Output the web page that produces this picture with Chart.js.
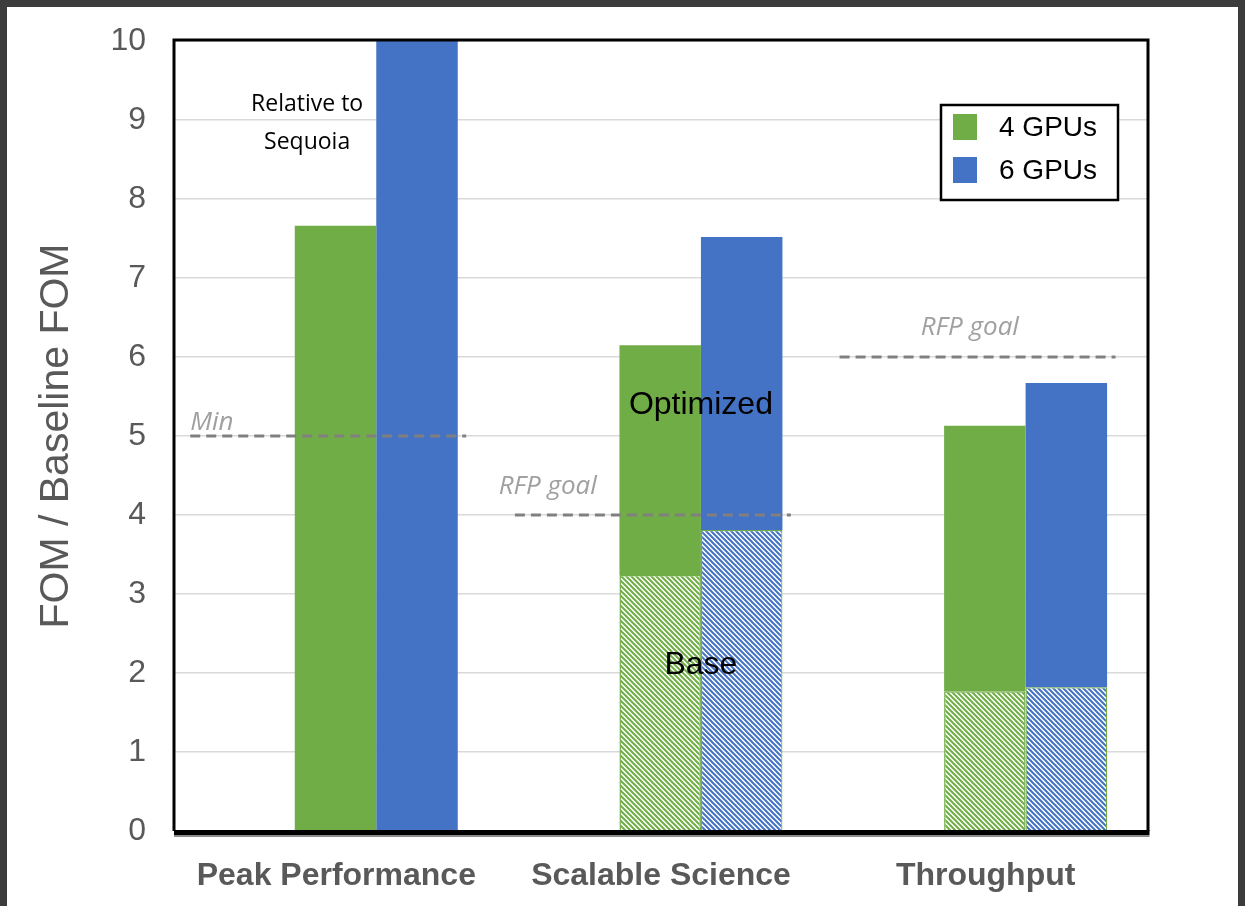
<!DOCTYPE html>
<html>
<head>
<meta charset="utf-8">
<script src="https://cdn.jsdelivr.net/npm/chart.js@4"></script>
<style>
  html, body { margin: 0; padding: 0; background: #3c3c3c; }
  #frame { position: absolute; left: 7px; top: 7px; width: 1231px; height: 899px; background: #fff; }
  canvas { display: block; }
</style>
</head>
<body>
<div id="frame"><canvas id="fomChart" width="1231" height="899"></canvas></div>
<script>
// Values
const categories = ['Peak Performance', 'Scalable Science', 'Throughput'];
const base4 = [0, 3.24, 1.77];     // hatched part, 4 GPUs
const total4 = [7.66, 6.15, 5.13]; // bar top, 4 GPUs
const base6 = [0, 3.81, 1.82];     // hatched part, 6 GPUs
const total6 = [10, 7.52, 5.67];   // bar top, 6 GPUs
const refValues = [5, 4, 6];
const refLabels = ['Min', 'RFP goal', 'RFP goal'];
const yTicks = [0, 1, 2, 3, 4, 5, 6, 7, 8, 9, 10];

const GREEN = '#70ad47';
const BLUE = '#4472c4';
const GRAY = '#595959';
const barShift = 0.123; // bar pairs sit right of the category label

function hatch(color) {
    const size = 5;
    const c = document.createElement('canvas');
    c.width = c.height = size;
    const g = c.getContext('2d');
    g.fillStyle = '#fff';
    g.fillRect(0, 0, size, size);
    g.strokeStyle = color;
    g.lineWidth = 2;
    g.beginPath();
    g.moveTo(-1, -1); g.lineTo(size + 1, size + 1);
    g.moveTo(-1, size - 1); g.lineTo(1, size + 1);
    g.moveTo(size - 1, -1); g.lineTo(size + 1, 1);
    g.stroke();
    return g.createPattern(c, 'repeat');
}

function points(values) {
    return values.map((v, i) => ({ x: i + barShift, y: v }));
}

const overlay = {
    id: 'overlay',
    afterDatasetsDraw(chart) {
        const { ctx, chartArea: a, scales: { x, y } } = chart;
        ctx.save();

        // dashed reference lines and their labels
        const labelShift = [-0.45, -0.5, -0.2];
        const labelY = [5.08, 4.27, 6.28];
        refValues.forEach((v, i) => {
            const py = y.getPixelForValue(v);
            ctx.setLineDash([10, 6]);
            ctx.lineWidth = 3;
            ctx.strokeStyle = '#808080';
            ctx.beginPath();
            ctx.moveTo(x.getPixelForValue(i - 0.45), py);
            ctx.lineTo(x.getPixelForValue(i + 0.4), py);
            ctx.stroke();
            ctx.setLineDash([]);
            ctx.font = 'italic 26px "Open Sans", sans-serif';
            ctx.fillStyle = '#a0a0a0';
            ctx.textAlign = 'left';
            ctx.textBaseline = 'alphabetic';
            ctx.fillText(refLabels[i], x.getPixelForValue(i + labelShift[i]), y.getPixelForValue(labelY[i]));
        });

        // text notes
        ctx.fillStyle = '#000';
        ctx.textAlign = 'center';
        ctx.textBaseline = 'middle';
        ctx.font = '23px "Open Sans", sans-serif';
        ctx.fillText('Relative to', x.getPixelForValue(-0.09), y.getPixelForValue(9.2));
        ctx.fillText('Sequoia', x.getPixelForValue(-0.09), y.getPixelForValue(8.71));
        ctx.font = '32px "Liberation Sans", Arial, sans-serif';
        ctx.fillText('Optimized', x.getPixelForValue(1 + barShift), y.getPixelForValue(5.39));
        ctx.fillText('Base', x.getPixelForValue(1 + barShift), y.getPixelForValue(2.1));

        // plot frame
        ctx.strokeStyle = '#000';
        ctx.lineWidth = 3;
        ctx.beginPath();
        ctx.moveTo(a.left, a.bottom);
        ctx.lineTo(a.left, a.top - 1);
        ctx.lineTo(a.right, a.top - 1);
        ctx.lineTo(a.right, a.bottom);
        ctx.stroke();
        ctx.lineWidth = 5;
        ctx.beginPath();
        ctx.moveTo(a.left, a.bottom + 1.5);
        ctx.lineTo(a.right + 1.5, a.bottom + 1.5);
        ctx.stroke();
        ctx.strokeStyle = '#8c8c8c';
        ctx.lineWidth = 2;
        ctx.beginPath();
        ctx.moveTo(a.left, a.bottom + 5);
        ctx.lineTo(a.right + 1.5, a.bottom + 5);
        ctx.stroke();

        // legend box
        const lx = a.right - 207, ly = a.top + 64, lw = 177, lh = 95;
        ctx.fillStyle = '#fff';
        ctx.fillRect(lx, ly, lw, lh);
        ctx.strokeStyle = '#000';
        ctx.lineWidth = 2.5;
        ctx.strokeRect(lx, ly, lw, lh);
        const entries = [['4 GPUs', GREEN], ['6 GPUs', BLUE]];
        ctx.font = '28px "Liberation Sans", Arial, sans-serif';
        ctx.textAlign = 'left';
        ctx.textBaseline = 'middle';
        entries.forEach(([label, color], k) => {
            ctx.fillStyle = color;
            ctx.fillRect(lx + 12, ly + 9 + k * 43, 24, 26);
            ctx.fillStyle = '#000';
            ctx.fillText(label, lx + 58, ly + 23 + k * 43);
        });
        ctx.restore();
    }
};

new Chart(document.getElementById('fomChart'), {
    type: 'bar',
    data: {
        datasets: [
            {
                label: '4 GPUs base', stack: 'g', data: points(base4),
                backgroundColor: hatch(GREEN), borderColor: GREEN, borderWidth: 1.5
            },
            {
                label: '4 GPUs', stack: 'g', data: points(total4.map((t, i) => t - base4[i])),
                backgroundColor: GREEN, borderWidth: 0
            },
            {
                label: '6 GPUs base', stack: 'b', data: points(base6),
                backgroundColor: hatch(BLUE), borderColor: GREEN, borderWidth: 1.2
            },
            {
                label: '6 GPUs', stack: 'b', data: points(total6.map((t, i) => t - base6[i])),
                backgroundColor: BLUE, borderWidth: 0
            }
        ]
    },
    options: {
        responsive: false,
        animation: false,
        barPercentage: 1,
        categoryPercentage: 0.502,
        layout: { padding: { top: 34, right: 90, left: 0, bottom: 0 } },
        plugins: { legend: { display: false }, tooltip: { enabled: false } },
        scales: {
            x: {
                type: 'linear',
                offset: false,
                min: -0.5,
                max: 2.5,
                grid: { display: false, offset: false },
                border: { display: false },
                afterBuildTicks: s => { s.ticks = categories.map((c, i) => ({ value: i })); },
                afterFit: s => { s.height = 75; s.paddingLeft = 0; s.paddingRight = 0; },
                ticks: {
                    callback: v => categories[v],
                    padding: 18,
                    color: GRAY,
                    font: { family: '"Liberation Sans", Arial, sans-serif', size: 32, weight: 'bold' }
                }
            },
            y: {
                stacked: true,
                min: 0,
                max: 10,
                afterBuildTicks: s => { s.ticks = yTicks.map(v => ({ value: v })); },
                afterFit: s => { s.width = 167; s.paddingTop = 0; s.paddingBottom = 0; },
                grid: { color: '#d9d9d9', lineWidth: 1.5, drawTicks: false },
                border: { display: false },
                ticks: {
                    padding: 28,
                    color: GRAY,
                    font: { family: '"Liberation Sans", Arial, sans-serif', size: 32 }
                },
                title: {
                    display: true,
                    text: 'FOM / Baseline FOM',
                    color: GRAY,
                    padding: { top: 25, bottom: 0 },
                    font: { family: '"Liberation Sans", Arial, sans-serif', size: 41 }
                }
            }
        }
    },
    plugins: [overlay]
});
</script>
</body>
</html>
